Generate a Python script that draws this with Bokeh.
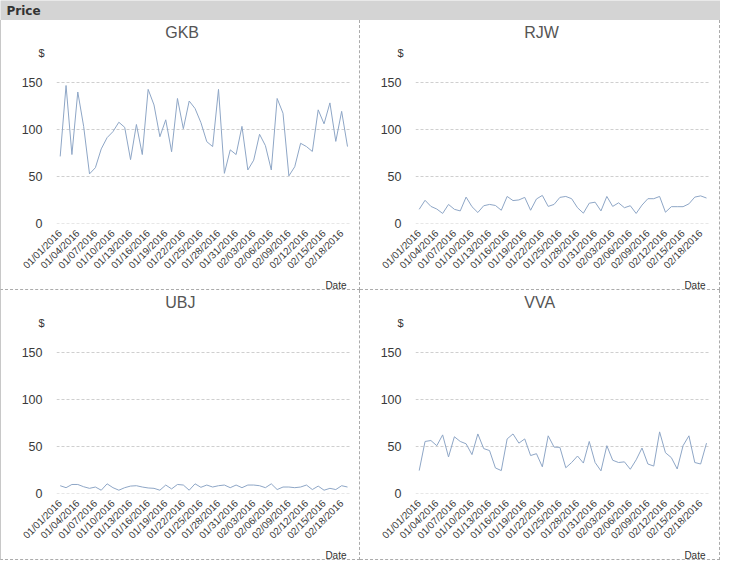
import math
import pandas as pd
from bokeh.plotting import figure
from bokeh.models import Range1d, FixedTicker, Label, ColumnDataSource, Title
from bokeh.layouts import column, row
from bokeh.embed import file_html
from bokeh.resources import INLINE

# ---------------- data ----------------
dates = pd.date_range("2016-01-01", periods=50, freq="D").strftime("%m/%d/%Y").tolist()

gkb = [71, 146.5, 73, 139.6, 103, 52.4, 59, 79, 91, 97.4,
       107.4, 102, 67.6, 105, 73, 142.4, 125.8, 92, 110, 76,
       132.7, 100.5, 130, 122, 107, 86.7, 81.5, 142.4, 53, 78,
       73, 103, 56.6, 67, 94.6, 82.5, 56.6, 132.7, 117, 50.3,
       60, 85, 81.5, 76.3, 120.6, 105.7, 128, 87, 119, 81.5]
rjw = [14.7, 24.3, 17.8, 15, 10.3, 19.9, 14.7, 13, 27.7, 17.5,
       11.3, 18.5, 19.9, 18.8, 13.7, 28.4, 24, 24.7, 27.4, 13.7,
       25.7, 29.5, 17.8, 19.9, 27.4, 28.4, 26, 16.4, 10.6, 21.2,
       22.3, 13, 28.4, 17.8, 21.6, 16.4, 18.5, 10.3, 19.2, 26,
       26, 28.4, 11.6, 17.5, 17.5, 17.5, 20.5, 27.7, 29, 26.7]
ubj = [7.9, 5.8, 9.2, 9.2, 6.8, 5.1, 6.5, 3.1, 9.9, 5.8,
       3.1, 5.8, 7.5, 7.9, 6.5, 5.5, 5.1, 3.1, 8.6, 4.5,
       9.2, 8.6, 3.1, 9.9, 6.2, 8.6, 6.5, 7.9, 8.6, 5.8,
       8.6, 5.8, 8.6, 8.6, 7.9, 5.8, 9.9, 3.8, 6.5, 6.5,
       5.8, 6.5, 8.6, 3.8, 7.5, 3.1, 5.1, 3.8, 7.9, 6.5]
vva = [24, 55, 56, 50.5, 62, 38.5, 60, 55, 52.5, 41,
       63, 47.4, 45.3, 26.8, 24, 57.7, 63, 53.2, 57.7, 40,
       42, 28, 61, 49, 48.7, 27, 32.6, 39.5, 32, 55,
       32.6, 23.7, 50.5, 35, 32.6, 33.3, 25.4, 35.4, 48, 31,
       28.8, 65.2, 43, 37.8, 25.7, 50.5, 61, 32.6, 31, 53.2]

series_names = ["GKB", "RJW", "UBJ", "VVA"]
series_values = [gkb, rjw, ubj, vva]

tick_idx = list(range(0, len(dates), 3))
tick_labels = [dates[i] for i in tick_idx]
y_ticks = [0, 50, 100, 150]
y_axis_title = "$"
x_axis_title = "Date"
header_title = "Price"

FONT = "Liberation Sans"
LINE_COLOR = "#8ea6c6"
BORDER = "1px dashed #ababab"

W, H = 360, 270
FRAME_LEFT = 55
FRAME_RIGHT_PAD = 10


def panel(name, vals, left_edge):
    src = ColumnDataSource(dict(x=list(range(len(dates))), y=vals))
    p = figure(width=W, height=H, output_backend="svg", toolbar_location=None,
               x_range=Range1d(-0.63, len(dates) - 1 + 0.68),
               y_range=Range1d(-0.4, 171),
               min_border_left=FRAME_LEFT, min_border_right=FRAME_RIGHT_PAD,
               min_border_top=42, min_border_bottom=60)
    p.outline_line_color = None
    p.background_fill_color = "white"
    p.border_fill_color = "white"
    p.line("x", "y", source=src, line_color=LINE_COLOR, line_width=1)

    p.xgrid.visible = False
    p.ygrid.ticker = FixedTicker(ticks=y_ticks)
    p.ygrid.grid_line_color = "#cfcfcf"
    p.ygrid.grid_line_dash = "3 2"

    p.yaxis.ticker = FixedTicker(ticks=y_ticks)
    p.yaxis.axis_line_color = None
    p.yaxis.major_tick_line_color = None
    p.yaxis.minor_tick_line_color = None
    p.yaxis.major_label_standoff = 8
    p.yaxis.major_label_text_font = FONT
    p.yaxis.major_label_text_font_size = "12.5px"
    p.yaxis.major_label_text_color = "#3a3a3a"

    p.xaxis.ticker = FixedTicker(ticks=tick_idx)
    p.xaxis.major_label_overrides = {i: lab for i, lab in zip(tick_idx, tick_labels)}
    p.xaxis.major_label_orientation = math.pi / 4
    p.xaxis.axis_line_color = None
    p.xaxis.major_tick_line_color = None
    p.xaxis.minor_tick_line_color = None
    p.xaxis.major_label_standoff = 2
    p.xaxis.major_label_text_font = FONT
    p.xaxis.major_label_text_font_size = "10px"
    p.xaxis.major_label_text_color = "#3a3a3a"

    # "$" just above the frame, left of it
    p.add_layout(Title(text=y_axis_title, align="left", offset=-18, standoff=8,
                       text_font=FONT, text_font_size="11px", text_font_style="normal",
                       text_color="#333333"), "above")
    # panel name, centred on the panel (not the frame)
    est_w = 0.72 * 16 * len(name)
    off = (W / 2 + 1) - FRAME_LEFT - est_w / 2
    p.add_layout(Title(text=name, align="left", offset=off, standoff=0,
                       text_font=FONT, text_font_size="16px", text_font_style="normal",
                       text_color="#555555"), "above")
    # "Date" bottom right
    p.add_layout(Title(text=x_axis_title, align="right", offset=5, standoff=0,
                       text_font=FONT, text_font_size="10px", text_font_style="normal",
                       text_color="#333333"), "below")
    st = {"border-right": BORDER, "border-bottom": BORDER}
    if left_edge:
        st["border-left"] = "1px solid #c8c8c8"
    p.styles = st
    return p


header = figure(width=2 * W, height=20, output_backend="svg", toolbar_location=None,
                x_range=Range1d(0, 1), y_range=Range1d(0, 1),
                min_border=0)
header.axis.visible = False
header.grid.visible = False
header.outline_line_color = None
header.background_fill_color = "#d4d4d4"
header.border_fill_color = "#d4d4d4"
header.add_layout(Label(x=6, y=10, x_units="canvas", y_units="canvas", text=header_title,
                        text_align="left", text_baseline="middle",
                        text_font="DejaVu Sans", text_font_style="bold",
                        text_font_size="12px", text_color="#333333"))

panels = [panel(n, v, i % 2 == 0) for i, (n, v) in enumerate(zip(series_names, series_values))]
layout = column(header, row(panels[0], panels[1]), row(panels[2], panels[3]), spacing=0)

open("out.html", "w").write(file_html(layout, INLINE))
